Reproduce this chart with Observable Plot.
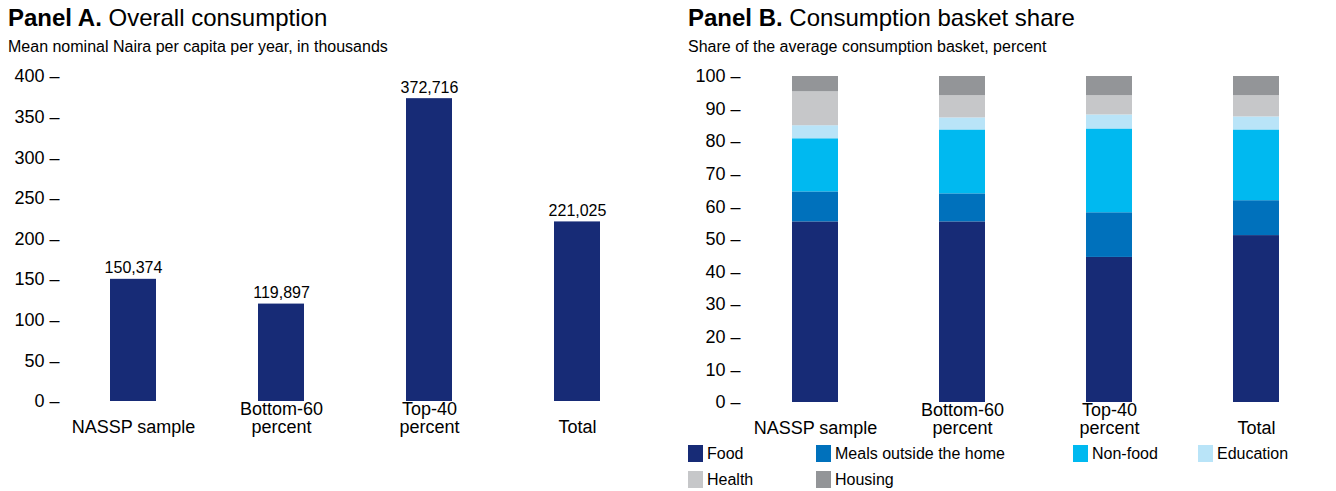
<!DOCTYPE html>
<html>
<head>
<meta charset="utf-8">
<script src="https://cdn.jsdelivr.net/npm/d3@7"></script>
<script src="https://cdn.jsdelivr.net/npm/@observablehq/plot@0.6"></script>
<style>
  body { margin: 0; background: #fff; font-family: "Liberation Sans", Arial, sans-serif; color: #000; }
  #wrap { position: relative; width: 1336px; height: 491px; overflow: hidden; }
  .title { position: absolute; top: 6px; font-size: 24px; line-height: 24px; white-space: nowrap; }
  .sub { position: absolute; top: 39px; font-size: 16px; line-height: 16px; white-space: nowrap; }
  .chart { position: absolute; top: 60px; }
  #legend { position: absolute; left: 688px; top: 445px; display: grid;
            grid-template-columns: 128px 257px 125px auto; row-gap: 9px; font-size: 16px; }
  .item { display: flex; align-items: center; height: 17px; white-space: nowrap; }
  .sw { width: 15px; height: 17px; margin-right: 4px; flex: none; }
</style>
</head>
<body>
<div id="wrap">
  <div class="title" style="left:8px"><b>Panel A.</b> Overall consumption</div>
  <div class="sub" style="left:8px">Mean nominal Naira per capita per year, in thousands</div>
  <div class="title" style="left:688px"><b>Panel B.</b> Consumption basket share</div>
  <div class="sub" style="left:688px">Share of the average consumption basket, percent</div>
  <div id="chartA" class="chart" style="left:0px"></div>
  <div id="chartB" class="chart" style="left:668px"></div>
  <div id="legend"></div>
</div>
<script>
// Household groups and their axis labels
const groups = ["NASSP sample", "Bottom-60 percent", "Top-40 percent", "Total"];
const groupLabels = ["NASSP sample", "Bottom-60\npercent", "Top-40\npercent", "Total"];

// Panel A: mean nominal consumption, thousand Naira per capita per year
const consumption = [150.374, 119.897, 372.716, 221.025];

// Panel B: consumption basket shares, percent
const components = ["Food", "Meals outside the home", "Non-food", "Education", "Health", "Housing"];
const componentColors = ["#172b76", "#0071bc", "#00b9f0", "#b9e4f8", "#c6c7c9", "#939598"];
const food      = [55.4, 55.4, 44.5, 51.2];
const mealsOut  = [9.2, 8.6, 13.7, 10.7];
const nonFood   = [16.3, 19.6, 25.7, 21.7];
const education = [4.0, 3.7, 4.3, 4.0];
const health    = [10.4, 6.8, 5.9, 6.5];
const housing   = [4.7, 5.9, 5.9, 5.9];

const font = '"Liberation Sans", Arial, sans-serif';
const labelOf = d => groupLabels[groups.indexOf(d)];
const thousands = d3.format(",");

// ---- Panel A ----
const tableA = groups.map((g, i) => ({group: g, value: consumption[i]}));

const chartA = Plot.plot({
  width: 668, height: 385,
  marginTop: 16, marginBottom: 44, marginLeft: 59, marginRight: 17,
  style: {fontFamily: font, color: "#000", background: "transparent", overflow: "visible"},
  x: {domain: groups, paddingInner: 0.69, paddingOuter: 0.345, label: null},
  y: {domain: [0, 400], label: null},
  marks: [
    Plot.axisY({ticks: d3.range(0, 401, 50), tickSize: 0, tickPadding: 0,
                tickFormat: d => `${d} –`, fontSize: 18, label: null}),
    Plot.axisX({tickSize: 0, tickPadding: 31, lineAnchor: "bottom", lineHeight: 0.95,
                tickFormat: labelOf, fontSize: 18, label: null}),
    Plot.barY(tableA, {x: "group", y: "value", fill: "#172b76"}),
    Plot.text(tableA, {x: "group", y: "value", text: d => thousands(Math.round(d.value * 1000)),
                       lineAnchor: "bottom", dy: -6, fontSize: 16, fill: "#000"})
  ]
});
document.getElementById("chartA").append(chartA);

// ---- Panel B ----
const shares = [food, mealsOut, nonFood, education, health, housing];
const tableB = [];
groups.forEach((g, i) => {
  components.forEach((c, j) => tableB.push({group: g, component: c, value: shares[j][i]}));
});

const chartB = Plot.plot({
  width: 668, height: 385,
  marginTop: 16, marginBottom: 43, marginLeft: 72, marginRight: 6,
  style: {fontFamily: font, color: "#000", background: "transparent", overflow: "visible"},
  x: {domain: groups, paddingInner: 0.69, paddingOuter: 0.345, label: null},
  y: {domain: [0, 100], label: null},
  color: {domain: components, range: componentColors},
  marks: [
    Plot.axisY({ticks: d3.range(0, 101, 10), tickSize: 0, tickPadding: 0,
                tickFormat: d => `${d} –`, fontSize: 18, label: null}),
    Plot.axisX({tickSize: 0, tickPadding: 31, lineAnchor: "bottom", lineHeight: 0.95,
                tickFormat: labelOf, fontSize: 18, label: null}),
    Plot.barY(tableB, {x: "group", y: "value", fill: "component"})
  ]
});
document.getElementById("chartB").append(chartB);

// Legend built from the chart's own colour scale
const color = chartB.scale("color");
const legend = document.getElementById("legend");
color.domain.forEach((c, i) => {
  const item = document.createElement("div");
  item.className = "item";
  const sw = document.createElement("span");
  sw.className = "sw";
  sw.style.background = color.range[i];
  item.append(sw, document.createTextNode(c));
  legend.append(item);
});
</script>
</body>
</html>
